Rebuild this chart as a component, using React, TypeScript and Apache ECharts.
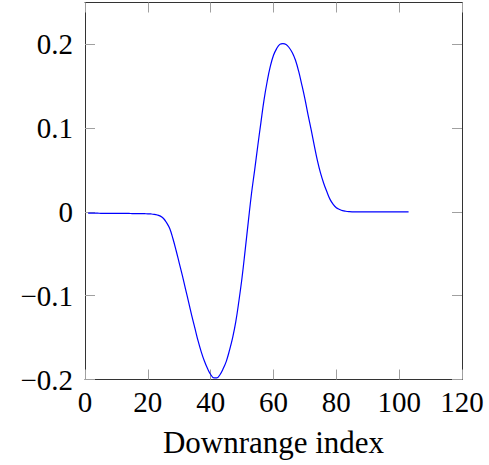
import React, { useEffect, useRef } from "react";
import * as echarts from "echarts";

const xIndex: number[] = Array.from({ length: 103 }, (_, i) => i + 1);

const signal: number[] = [
  -0.0015, -0.0015, -0.0015, -0.0015, -0.0016, -0.0016, -0.0016, -0.0016, -0.0017, -0.0017,
  -0.0017, -0.0018, -0.0018, -0.0018, -0.0019, -0.0019, -0.002, -0.002, -0.0021, -0.0022,
  -0.0024, -0.0028, -0.0036, -0.005, -0.0078, -0.013, -0.02, -0.032, -0.046, -0.061,
  -0.076, -0.092, -0.108, -0.124, -0.139, -0.154, -0.167, -0.178, -0.187, -0.194,
  -0.198, -0.198, -0.194, -0.187, -0.178, -0.165, -0.15, -0.131, -0.106, -0.078,
  -0.045, -0.011, 0.022, 0.05, 0.079, 0.107, 0.134, 0.156, 0.174, 0.187,
  0.195, 0.2, 0.201, 0.2, 0.196, 0.19, 0.181, 0.168, 0.152, 0.135,
  0.116, 0.098, 0.079, 0.061, 0.046, 0.034, 0.024, 0.015, 0.009, 0.005,
  0.003, 0.0015, 0.0008, 0.0004, 0.0002, 0.0002, 0.0001, 0.0001, 0.0001, 0.0001,
  0, 0, 0, 0, 0, 0, 0, 0, 0, 0,
  0, 0, 0,
];

const yTicks: number[] = [-0.2, -0.1, 0, 0.1, 0.2];
const xTicks: number[] = [0, 20, 40, 60, 80, 100, 120];
const xTitle = "Downrange index";

const FONT = "'Liberation Serif', 'Times New Roman', serif";

export default function App() {
  const ref = useRef<HTMLDivElement>(null);
  useEffect(() => {
    if (!ref.current) return;
    const chart = echarts.init(ref.current, undefined, { renderer: "svg" });
    const fmtY = (v: number) => {
      const r = Math.round(v * 10) / 10;
      if (r === 0) return "0";
      return r < 0 ? "\u2212" + String(Math.abs(r)) : String(r);
    };
    const tickStyle = { show: true, inside: true, length: 10, lineStyle: { color: "#a0a0a0", width: 1 } };
    const lineStyle = { show: true, onZero: false, lineStyle: { color: "#333", width: 1 } };
    chart.setOption({
      animation: false,
      backgroundColor: "#fff",
      grid: { left: 85, right: 27, top: 2.5, bottom: 85.5, containLabel: false, outerBoundsMode: "none" },
      xAxis: [
        {
          type: "value",
          min: 0,
          max: 120,
          interval: 20,
          position: "bottom",
          axisLine: lineStyle,
          axisTick: { ...tickStyle, customValues: xTicks },
          splitLine: { show: false },
          axisLabel: {
            customValues: xTicks,
            margin: 8,
            color: "#000",
            fontFamily: FONT,
            fontSize: 29,
          },
          name: xTitle,
          nameLocation: "middle",
          nameGap: 47,
          nameMoveOverlap: false,
          nameTextStyle: { color: "#000", fontFamily: FONT, fontSize: 31 },
        },
        {
          type: "value",
          min: 0,
          max: 120,
          interval: 20,
          position: "top",
          axisLine: lineStyle,
          axisTick: { ...tickStyle, customValues: xTicks },
          splitLine: { show: false },
          axisLabel: { show: false },
        },
      ],
      yAxis: [
        {
          type: "value",
          min: -0.2,
          max: 0.25,
          position: "left",
          axisLine: lineStyle,
          axisTick: { ...tickStyle, customValues: yTicks },
          splitLine: { show: false },
          axisLabel: {
            customValues: yTicks,
            formatter: fmtY,
            margin: 12,
            color: "#000",
            fontFamily: FONT,
            fontSize: 29,
          },
        },
        {
          type: "value",
          min: -0.2,
          max: 0.25,
          position: "right",
          axisLine: lineStyle,
          axisTick: { ...tickStyle, customValues: yTicks },
          splitLine: { show: false },
          axisLabel: { show: false },
        },
      ],
      series: [
        {
          type: "line",
          xAxisIndex: 0,
          yAxisIndex: 0,
          data: xIndex.map((x, i) => [x, signal[i]]),
          showSymbol: false,
          symbol: "none",
          smooth: 0.4,
          lineStyle: { color: "#0000ff", width: 1.2 },
        },
      ],
    });
    return () => chart.dispose();
  }, []);
  return (
    <div
      ref={ref}
      style={{ position: "absolute", left: 0, top: 0, width: 489, height: 465 }}
    />
  );
}
